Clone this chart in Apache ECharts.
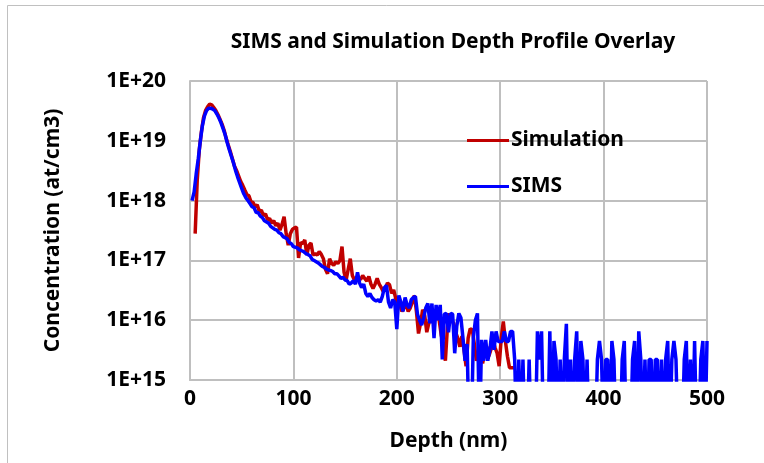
<!DOCTYPE html>
<html>
<head>
<meta charset="utf-8">
<script src="https://cdn.jsdelivr.net/npm/echarts@6/dist/echarts.min.js"></script>
<style>
html,body{margin:0;padding:0;background:#fff;}
#chart{width:764px;height:463px;}
</style>
</head>
<body>
<div id="chart"></div>
<script>
const titleText = 'SIMS and Simulation Depth Profile Overlay';
const xName = 'Depth (nm)';
const yName = 'Concentration (at/cm3)';
const seriesNames = ['Simulation', 'SIMS'];
const xTicks = [0, 100, 200, 300, 400, 500];
const yTickExps = [15, 16, 17, 18, 19, 20];

const simDepth = [
5,7,9,11,13,15,17,19,21,23,
25,27,29,31,33,35,37,39,41,43,
45,47,49,51,53,55,57,59,61,63,
65,67,69,71,73,75,77,79,81,83,
85,87,89,91,93,95,97,99,101,103,
105,107,109,111,113,115,117,119,121,123,
125,127,129,131,133,135,137,139,141,143,
145,147,149,151,153,155,157,159,161,163,
165,167,169,171,173,175,177,179,181,183,
185,187,189,191,193,195,197,199,201,203,
205,207,209,211,213,215,217,219,221,223,
225,227,229,231,233,235,237,239,241,243,
245,247,249,251,253,255,257,259,261,263,
265,267,269,271,273,275,277,279,281,283,
285,287,289,291,293,295,297,299,301,303,
305,307,309,311,313,315];
const simConc = [
2.8e17,2.2e18,7.1e18,1.4e19,2.4e19,3.2e19,3.7e19,4.1e19,4.0e19,3.6e19,
3.2e19,2.75e19,2.3e19,1.9e19,1.5e19,1.1e19,8.5e18,6.6e18,5.0e18,3.8e18,
3.2e18,2.6e18,2.1e18,1.8e18,1.5e18,1.26e18,1.2e18,9.5e17,9.3e17,7.9e17,
8.5e17,6.6e17,6.9e17,5.6e17,6.0e17,4.8e17,5.0e17,4.2e17,4.6e17,3.8e17,
4.2e17,3.2e17,4.0e17,5.4e17,2.8e17,1.8e17,2.8e17,3.3e17,3.5e17,3.6e17,
1.1e17,2.0e17,1.9e17,2.2e17,1.23e17,1.8e17,1.95e17,1.23e17,1.3e17,1.23e17,
1.4e17,1.26e17,1.07e17,7.1e16,6.0e16,1.07e17,8.9e16,8.3e16,9.5e16,8.9e16,
1.0e17,1.7e17,6.3e16,4.7e16,7.1e16,1.07e17,5.6e16,4.7e16,5.2e16,5.0e16,
4.8e16,5.6e16,5.0e16,4.5e16,5.4e16,4.0e16,3.4e16,4.0e16,5.0e16,4.0e16,
3.5e16,3.0e16,3.5e16,4.2e16,3.9e16,2.8e16,3.2e16,2.3e16,2.0e16,1.8e16,
1.4e16,1.6e16,1.9e16,1.4e16,1.6e16,2.0e16,2.6e16,1.4e16,6.0e15,8.9e15,
1.5e16,1.2e16,6.3e15,8.9e15,1.4e16,1.3e16,1.1e16,1.26e16,1.0e16,5.6e15,
4.0e15,2.1e15,7.9e15,1.3e16,1.0e16,8.9e15,6.3e15,5.0e15,3.6e15,5.4e15,
3.2e15,1.7e15,5.0e15,7.2e15,6.9e15,4.0e15,2.1e15,2.8e15,3.2e15,1.9e15,
2.8e15,3.6e15,2.5e15,3.2e15,4.7e15,3.5e15,2.8e15,1.7e15,5.0e15,9.5e15,
4.5e15,2.5e15,1.6e15,1.6e15,1.6e15,1.6e15];

const simsDepth = [
2,4,6,8,10,12,14,16,18,20,
22,24,26,28,30,32,34,36,38,40,
42,44,46,48,50,52,54,56,58,60,
62,64,66,68,70,72,74,76,78,80,
82,84,86,88,90,92,94,96,98,100,
102,104,106,108,110,112,114,116,118,120,
122,124,126,128,130,132,134,136,138,140,
142,144,146,148,150,152,154,156,158,160,
162,164,166,168,170,172,174,176,178,180,
182,184,186,188,190,192,194,196,198,200,
202,204,206,208,210,212,214,216,218,220,
222,224,226,228,230,232,234,236,238,240,
242,244,246,248,250,252,254,256,258,260,
262,264,266,268,270,272,274,276,278,280,
282,284,286,288,290,292,294,296,298,300,
302,304,306,308,310,312,314,316,318,320,
322,324,326,328,330,332,334,336,338,340,
342,344,346,348,350,352,354,356,358,360,
362,364,366,368,370,372,374,376,378,380,
382,384,386,388,390,392,394,396,398,400,
402,404,406,408,410,412,414,416,418,420,
422,424,426,428,430,432,434,436,438,440,
442,444,446,448,450,452,454,456,458,460,
462,464,466,468,470,472,474,476,478,480,
482,484,486,488,490,492,494,496,498,500];
const simsConc = [
1.0e18,1.4e18,2.8e18,5.0e18,1.0e19,1.8e19,2.6e19,3.2e19,3.5e19,3.5e19,
3.4e19,3.2e19,2.8e19,2.4e19,2.0e19,1.6e19,1.26e19,9.3e18,7.1e18,5.5e18,
4.3e18,3.2e18,2.5e18,2.0e18,1.6e18,1.3e18,1.12e18,1.0e18,8.9e17,7.9e17,
7.6e17,6.3e17,6.3e17,5.5e17,5.2e17,4.6e17,4.4e17,4.2e17,3.7e17,3.5e17,
3.3e17,3.2e17,2.9e17,2.8e17,2.5e17,2.4e17,2.3e17,2.0e17,1.9e17,1.7e17,
1.66e17,1.6e17,1.5e17,1.45e17,1.4e17,1.3e17,1.26e17,1.2e17,1.05e17,1.0e17,
9.5e16,9.1e16,8.5e16,7.9e16,7.6e16,7.2e16,6.9e16,6.8e16,6.5e16,6.0e16,
6.0e16,5.5e16,5.0e16,5.2e16,4.7e16,4.6e16,4.0e16,4.2e16,4.6e16,4.0e16,
6.3e16,4.2e16,3.5e16,4.0e16,2.8e16,2.5e16,2.8e16,2.4e16,2.2e16,2.1e16,
2.2e16,2.0e16,2.5e16,3.5e16,3.8e16,2.0e16,1.6e16,2.2e16,2.0e16,7.1e15,
2.6e16,2.0e16,1.4e16,2.4e16,1.8e16,1.6e16,2.2e16,2.4e16,2.5e16,1.26e16,
1.0e16,8.3e15,1.1e16,1.6e16,1.9e16,8.9e15,1.9e16,5.0e15,1.8e16,1.0e16,
1.8e16,2.2e15,1.26e16,1.3e16,6.3e15,1.3e16,1.26e16,2.8e15,7.9e15,1.3e16,
1.1e16,5.0e15,2.1e15,4.0e15,1e14,1e14,5.0e15,1.0e16,1.3e16,1e14,
4.7e15,2.1e15,4.7e15,2.1e15,3.2e15,6.5e15,3.2e15,6.5e15,4.4e15,4.4e15,
4.4e15,6.5e15,4.4e15,4.4e15,6.5e15,6.5e15,2.2e15,1e14,2.2e15,1e14,
2.2e15,1e14,1e14,2.2e15,1e14,1e14,1e14,6.5e15,2.2e15,6.5e15,
1e14,1e14,1e14,6.5e15,1e14,4.5e15,2.2e15,1e14,2.2e15,1e14,
2.2e15,8.7e15,1e14,2.2e15,1e14,2.2e15,6.5e15,1e14,4.5e15,2.2e15,
1e14,2.2e15,1e14,1e14,1e14,1e14,2.2e15,4.5e15,2.2e15,1e14,
2.2e15,2.2e15,1e14,4.5e15,2.2e15,1e14,1e14,1e14,2.2e15,4.5e15,
1e14,1e14,1e14,2.2e15,4.5e15,1e14,6.5e15,2.2e15,1e14,2.2e15,
1e14,2.2e15,2.2e15,1e14,2.2e15,2.2e15,1e14,2.2e15,1e14,2.2e15,
4.5e15,1e14,2.2e15,4.5e15,2.2e15,1e14,1e14,1e14,2.2e15,4.5e15,
1e14,2.2e15,1e14,4.5e15,1e14,1e14,2.2e15,4.5e15,1e14,4.5e15];

const FONT = '"Noto Sans", "Open Sans", sans-serif';
const GRID = '#bfbfbf';
const chart = echarts.init(document.getElementById('chart'), null, {renderer: 'canvas'});

const zip = (xs, ys) => xs.map((x, i) => [x, ys[i]]);

chart.setOption({
  animation: false,
  backgroundColor: '#ffffff',
  title: {
    text: titleText,
    left: 448, textAlign: 'center',
    top: 27,
    textStyle: {fontFamily: FONT, fontSize: 21, fontWeight: 'bold', color: '#000'}
  },
  graphic: [{
    type: 'rect', silent: true,
    shape: {x: 7.5, y: 5.5, width: 800, height: 500},
    style: {fill: 'none', stroke: '#c0c0c0', lineWidth: 1}
  }],
  legend: {
    orient: 'vertical',
    left: 462, top: 125,
    itemWidth: 42, itemHeight: 3, itemGap: 25,
    icon: 'rect',
    data: seriesNames,
    textStyle: {fontFamily: FONT, fontSize: 21, fontWeight: 'bold', color: '#000', padding: [0,0,0,-3]}
  },
  grid: {left: 190, right: 57, top: 81, bottom: 83},
  xAxis: {
    type: 'value', min: xTicks[0], max: xTicks[xTicks.length-1], interval: 100,
    name: xName, nameLocation: 'middle', nameGap: 51,
    nameTextStyle: {fontFamily: FONT, fontSize: 21, fontWeight: 'bold', color: '#000'},
    axisLine: {show: true, lineStyle: {color: GRID, width: 2}},
    axisTick: {show: false},
    axisLabel: {fontFamily: FONT, fontSize: 21, fontWeight: 'bold', color: '#000', margin: 9},
    splitLine: {show: true, lineStyle: {color: GRID, width: 2}}
  },
  yAxis: {
    type: 'log', logBase: 10,
    min: Math.pow(10, yTickExps[0]), max: Math.pow(10, yTickExps[yTickExps.length-1]),
    splitNumber: 5,
    name: yName, nameLocation: 'middle', nameGap: 126,
    nameTextStyle: {fontFamily: FONT, fontSize: 21, fontWeight: 'bold', color: '#000'},
    axisLine: {show: true, lineStyle: {color: GRID, width: 2}},
    axisTick: {show: false},
    axisLabel: {
      fontFamily: FONT, fontSize: 21, fontWeight: 'bold', color: '#000', margin: 24,
      formatter: v => '1E+' + Math.round(Math.log10(v))
    },
    splitLine: {show: true, lineStyle: {color: GRID, width: 2}}
  },
  series: [
    {
      name: seriesNames[0], type: 'line', showSymbol: false, symbol: 'none',
      data: zip(simDepth, simConc),
      lineStyle: {color: '#c00000', width: 3.5}, itemStyle: {color: '#c00000'},
      clip: true, z: 2
    },
    {
      name: seriesNames[1], type: 'line', showSymbol: false, symbol: 'none',
      data: zip(simsDepth, simsConc),
      lineStyle: {color: '#0000ff', width: 3.5}, itemStyle: {color: '#0000ff'},
      clip: true, z: 3
    }
  ]
});
</script>
</body>
</html>
